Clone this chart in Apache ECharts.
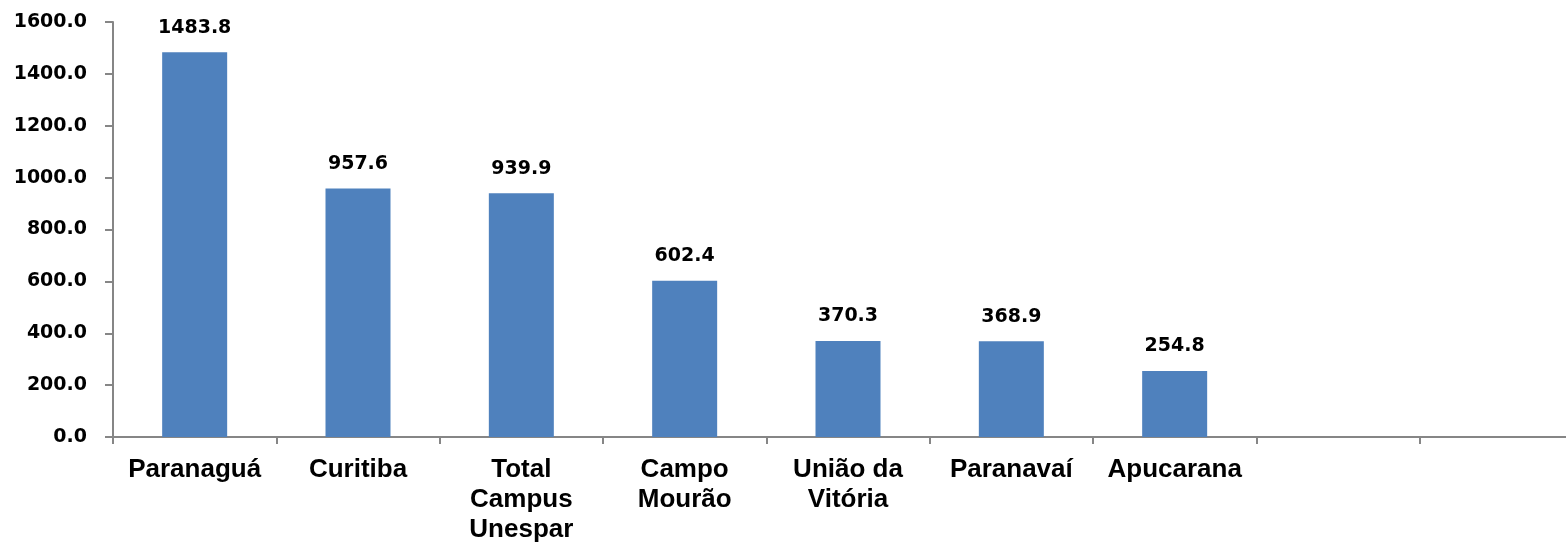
<!DOCTYPE html>
<html>
<head>
<meta charset="utf-8">
<script src="https://cdn.jsdelivr.net/npm/echarts@6/dist/echarts.min.js"></script>
<style>
  html, body { margin: 0; padding: 0; background: #fff; overflow: hidden; }
  /* the plot runs past the right edge of the picture, as in the original */
  #chart { width: 1583px; height: 545px; }
</style>
</head>
<body>
<div id="chart"></div>
<script>
// campus names (two empty slots at the end, as in the original sheet)
var campus = ['Paranaguá', 'Curitiba', 'Total\nCampus\nUnespar', 'Campo\nMourão',
  'União da\nVitória', 'Paranavaí', 'Apucarana', '', ''];
var values = [1483.8, 957.6, 939.9, 602.4, 370.3, 368.9, 254.8, '-', '-'];
var yMin = 0, yMax = 1600, yStep = 200;

var chart = echarts.init(document.getElementById('chart'));
chart.setOption({
  backgroundColor: '#fff',
  animation: false,
  grid: { left: 113, right: 0, top: 22, bottom: 107 },
  xAxis: {
    type: 'category',
    data: campus,
    axisLine: { lineStyle: { color: '#868686', width: 2 } },
    axisTick: { show: true, length: 7, lineStyle: { color: '#868686', width: 2 } },
    axisLabel: {
      interval: 0,
      margin: 18,
      color: '#000',
      fontFamily: 'Liberation Sans, Arial, sans-serif',
      fontWeight: 'bold',
      fontSize: 26,
      lineHeight: 30
    }
  },
  yAxis: {
    type: 'value',
    min: yMin,
    max: yMax,
    interval: yStep,
    splitLine: { show: false },
    axisLine: { show: true, lineStyle: { color: '#868686', width: 2 } },
    axisTick: { show: true, length: 8, lineStyle: { color: '#868686', width: 2 } },
    axisLabel: {
      margin: 26,
      color: '#000',
      fontFamily: 'DejaVu Sans, sans-serif',
      fontWeight: 'bold',
      fontSize: 19,
      formatter: function (v) { return v.toFixed(1); }
    }
  },
  series: [{
    type: 'bar',
    data: values,
    barWidth: 65,
    itemStyle: { color: '#4F81BD' },
    label: {
      show: true,
      position: 'top',
      distance: 15,
      color: '#000',
      fontFamily: 'DejaVu Sans, sans-serif',
      fontWeight: 'bold',
      fontSize: 19,
      formatter: function (p) { return p.value.toFixed(1); }
    }
  }]
});
</script>
</body>
</html>
